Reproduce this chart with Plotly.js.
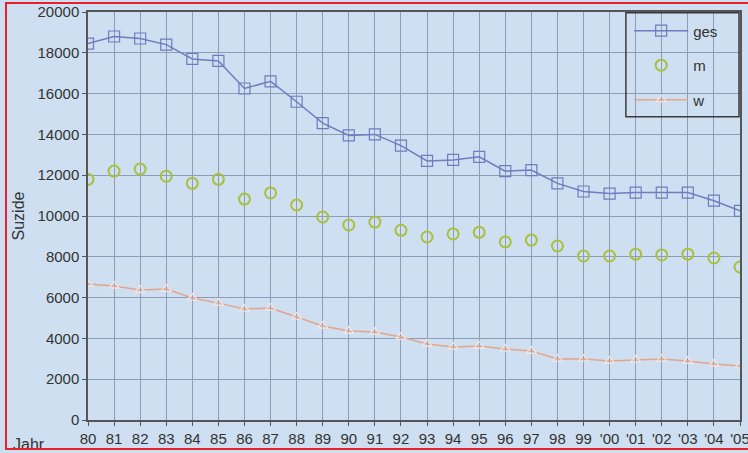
<!DOCTYPE html>
<html>
<head>
<meta charset="utf-8">
<script src="https://cdn.plot.ly/plotly-3.0.1.min.js"></script>
<style>
html,body{margin:0;padding:0;background:#cddff0;}
#chart{width:748px;height:453px;}
#frame{position:absolute;left:5px;top:2px;width:745px;height:448px;border:2px solid #e8202a;border-right:none;pointer-events:none;box-sizing:border-box;}
</style>
</head>
<body>
<div id="chart"></div>
<div id="frame"></div>
<script>
const years = ["80","81","82","83","84","85","86","87","88","89","90","91","92","93","94","95","96","97","98","99","'00","'01","'02","'03","'04","'05"];
const ges = [18450,18800,18700,18400,17700,17600,16250,16600,15600,14550,13950,14000,13450,12700,12750,12900,12200,12250,11600,11200,11100,11150,11150,11150,10750,10250];
const m = [11800,12200,12300,11950,11600,11800,10830,11130,10540,9950,9560,9700,9300,8970,9120,9200,8730,8820,8530,8040,8040,8130,8090,8130,7940,7500];
const w = [6670,6570,6370,6420,5980,5730,5440,5490,5050,4610,4360,4310,4070,3730,3580,3630,3480,3380,2990,2990,2890,2940,2990,2890,2750,2650];
const xIdx = years.map((_, i) => i);

const traces = [
  {x: xIdx, y: ges, name: 'ges', legendgroup: 'g1', mode: 'lines+markers',
   line: {color: '#6f7cc0', width: 1.5},
   marker: {symbol: 'square-open', size: 11, color: '#6f7cc0', line: {width: 1.2}}},
  {x: xIdx, y: m, name: 'm', legendgroup: 'g2', mode: 'markers',
   marker: {symbol: 'circle-open', size: 11, color: '#a9c13a', line: {width: 2}}},
  {x: xIdx, y: w, name: 'w', legendgroup: 'g3', mode: 'lines+markers',
   line: {color: '#e4a58a', width: 1.5},
   marker: {symbol: 'triangle-up-open', size: 9, color: '#f4e4e0', line: {width: 1.2}}}
];

const layout = {
  width: 748, height: 453,
  margin: {l: 88, r: 8, t: 12, b: 33},
  paper_bgcolor: '#cddff0',
  plot_bgcolor: '#cddff0',
  font: {family: 'Liberation Sans, Arial, sans-serif', size: 15, color: '#333'},
  showlegend: true,
  legend: {x: 0.83, xanchor: 'left', y: 0.994, yanchor: 'top',
           bgcolor: 'rgba(0,0,0,0)', borderwidth: 0,
           font: {size: 15, color: '#333'}, tracegroupgap: 12, itemwidth: 54},
  shapes: [
    {type: 'rect', xref: 'paper', yref: 'paper', x0: 0.825, x1: 0.9985, y0: 0.743, y1: 0.998,
     line: {color: '#3a3a3a', width: 1.5}, fillcolor: 'rgba(0,0,0,0)', layer: 'above'}
  ],
  xaxis: {range: [0, 25], tickmode: 'array', tickvals: xIdx, ticktext: years,
          showgrid: true, gridcolor: '#8f9cb8', gridwidth: 1,
          showline: true, linecolor: '#555', linewidth: 1.5, mirror: true,
          ticks: 'outside', ticklen: 4, tickcolor: '#555', zeroline: false,
          ticklabeloverflow: 'allow',
          tickfont: {size: 15, color: '#333'}},
  yaxis: {range: [0, 20000], dtick: 2000, tickformat: 'd',
          showgrid: true, gridcolor: '#8f9cb8', gridwidth: 1,
          showline: true, linecolor: '#555', linewidth: 1.5, mirror: true,
          ticks: 'outside', ticklen: 4, tickcolor: '#555', zeroline: false,
          tickfont: {size: 15, color: '#333'},
          title: {text: 'Suzide', standoff: 9, font: {size: 16, color: '#333'}}},
  annotations: [
    {text: 'Jahr', xref: 'paper', yref: 'paper', x: -0.118, y: -0.035,
     xanchor: 'left', yanchor: 'top', showarrow: false,
     font: {size: 16, color: '#333'}}
  ]
};

Plotly.newPlot('chart', traces, layout, {displayModeBar: false});
</script>
</body>
</html>
